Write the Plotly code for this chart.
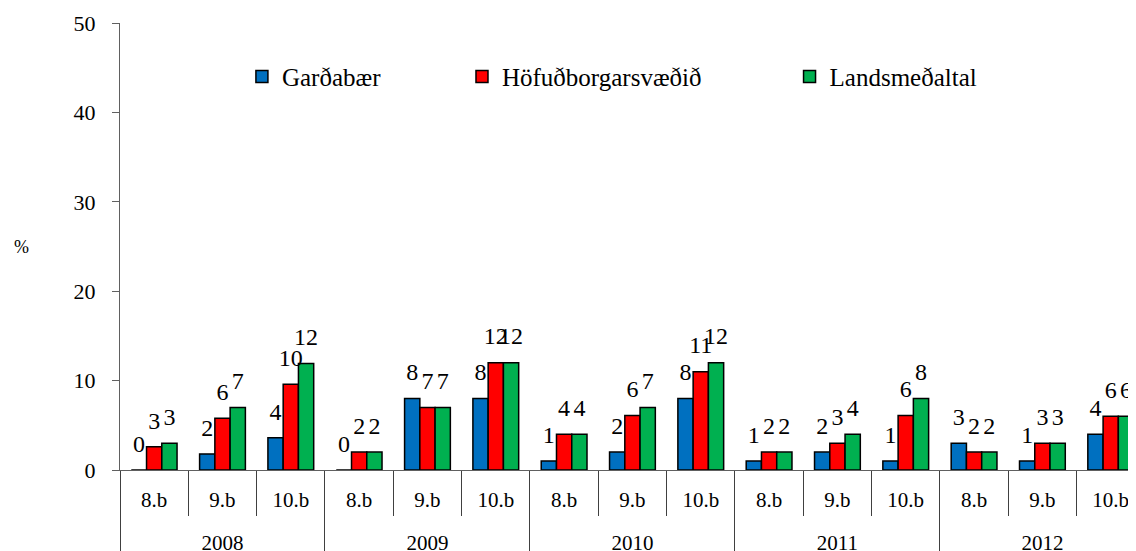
import plotly.graph_objects as go

# data
years = ['2008', '2009', '2010', '2011', '2012']
grades = ['8.b', '9.b', '10.b']
gardabaer = [0, 1.8, 3.6, 0, 8.0, 8.0, 1.0, 2.0, 8.0, 1.0, 2.0, 1.0, 3.0, 1.0, 4.0]
hofudborg = [2.6, 5.8, 9.6, 2.0, 7.0, 12.0, 4.0, 6.1, 11.0, 2.0, 3.0, 6.1, 2.0, 3.0, 6.0]
landsmedal = [3.0, 7.0, 11.9, 2.0, 7.0, 12.0, 4.0, 7.0, 12.0, 2.0, 4.0, 8.0, 2.0, 3.0, 6.0]

# year labels get a blank first line so they sit one row lower
x_year = ['<br>' + y for y in years for g in grades]
x_grade = [g for y in years for g in grades]

series = [
    ('Garðabær', gardabaer, '#0070C0', 'legend'),
    ('Höfuðborgarsvæðið', hofudborg, '#FF0000', 'legend2'),
    ('Landsmeðaltal', landsmedal, '#00B050', 'legend3'),
]

serif = 'Liberation Serif'

fig = go.Figure()
for name, vals, col, lg in series:
    fig.add_trace(go.Bar(
        x=[x_year, x_grade], y=vals, name=name, legend=lg,
        offsetgroup=name,
        marker=dict(color=col, line=dict(color='black', width=1.5)),
        hoverinfo='skip',
    ))
# value labels (rounded), drawn as text above each bar
for name, vals, col, lg in series:
    fig.add_trace(go.Scatter(
        x=[x_year, x_grade], y=vals, mode='markers+text',
        offsetgroup=name, showlegend=False,
        text=[str(round(v)) for v in vals],
        textposition='top center',
        textfont=dict(size=24, color='black', family=serif),
        marker=dict(size=18, opacity=0),
        cliponaxis=False, hoverinfo='skip',
    ))

leg_common = dict(orientation='h', yanchor='middle', y=0.88, xanchor='left',
                  font=dict(size=25, family=serif, color='black'),
                  bgcolor='rgba(0,0,0,0)', itemclick=False)

# page body has an 8px margin, so the figure is shifted; size/margins account for it
fig.update_layout(
    barmode='group', bargap=0.33, bargroupgap=0,
    scattermode='group', scattergap=0.33,
    width=1128, height=543,
    margin=dict(l=112, r=0, t=15, b=81),
    plot_bgcolor='white', paper_bgcolor='white',
    font=dict(family=serif, size=22, color='black'),
    legend=dict(x=0.120, **leg_common),
    legend2=dict(x=0.3366, **leg_common),
    legend3=dict(x=0.659, **leg_common),
    xaxis=dict(
        type='multicategory', range=[-0.5, 14.37], automargin=False,
        showline=True, linecolor='#606060', linewidth=1,
        ticks='outside', tickson='boundaries', ticklen=45, tickcolor='#404040',
        ticklabelstandoff=11,
        showdividers=True, dividercolor='#404040', dividerwidth=1,
        tickfont=dict(size=21, family=serif), showgrid=False,
    ),
    yaxis=dict(
        range=[0, 50], dtick=10, showgrid=False, zeroline=False, automargin=False,
        showline=True, linecolor='#606060', linewidth=1,
        ticks='outside', ticklen=7, tickcolor='#606060',
        tickfont=dict(size=22, family=serif), ticklabelstandoff=12,
    ),
    annotations=[dict(text='%', xref='paper', yref='paper', x=-0.097, y=0.5,
                      xanchor='center', yanchor='middle', showarrow=False,
                      font=dict(size=18, family=serif))],
)

fig.write_html('out.html')
